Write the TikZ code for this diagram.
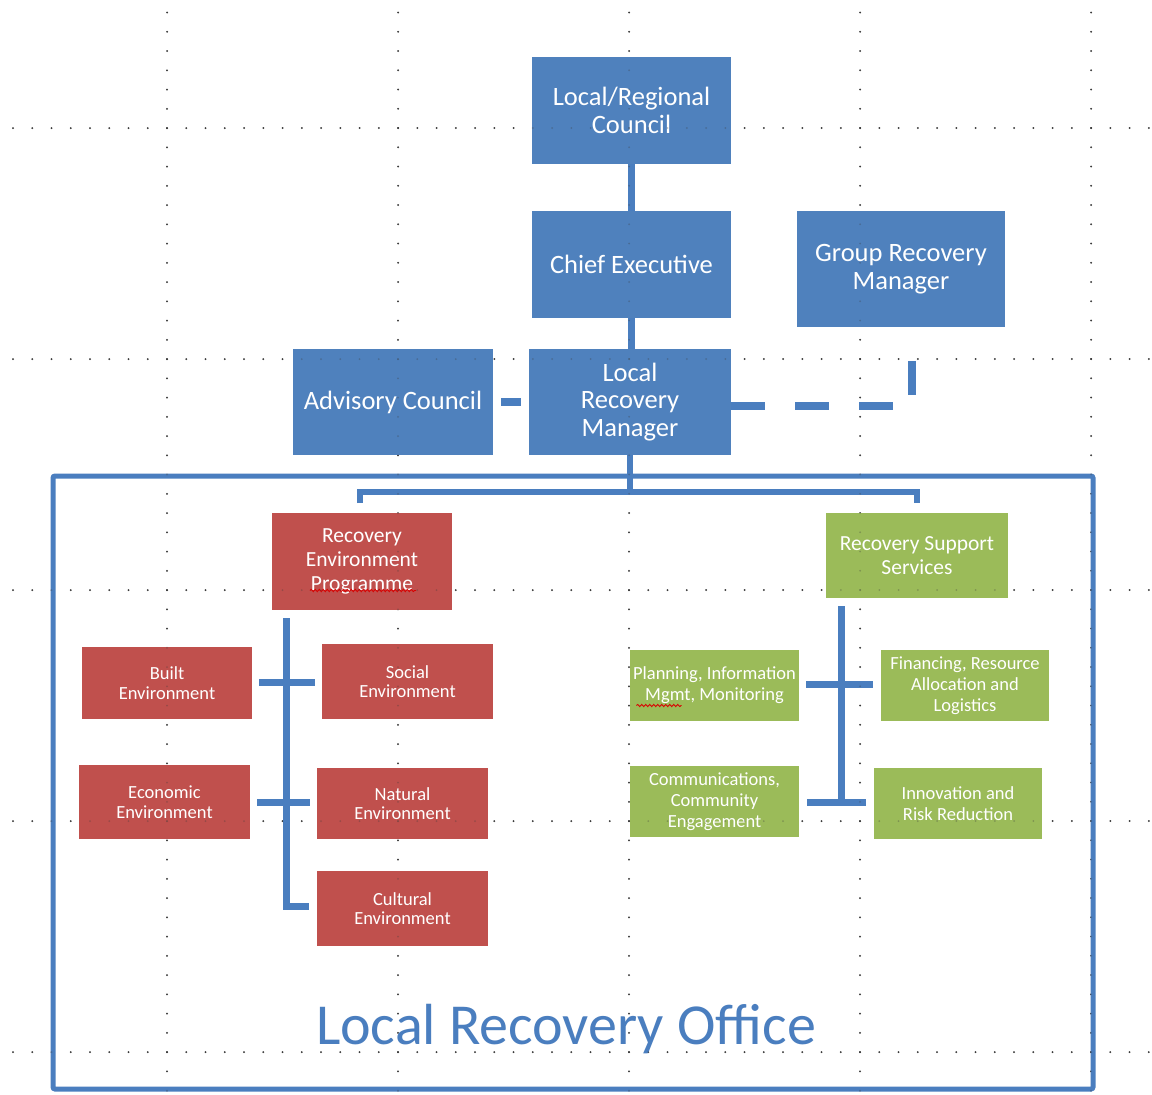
\documentclass[tikz,border=0pt]{standalone}
\usepackage{fontspec}
\setmainfont{Carlito}
\usetikzlibrary{calc,decorations.pathmorphing}
\definecolor{ofblue}{HTML}{4F81BD}
\definecolor{ofred}{HTML}{C0504D}
\definecolor{ofgreen}{HTML}{9BBB59}
\definecolor{linkblue}{HTML}{4A7EBF}
\definecolor{griddot}{HTML}{3A3A3A}
\tikzset{
  box/.style={inner sep=0pt, align=center, text=white},
  bluebox/.style={box, fill=ofblue, font=\fontsize{26.5}{27.5}\selectfont},
  redhead/.style={box, fill=ofred, font=\fontsize{21.5}{24}\selectfont},
  redbox/.style={box, fill=ofred, font=\fontsize{18.5}{19.5}\selectfont},
  greenhead/.style={box, fill=ofgreen, font=\fontsize{21.5}{23.5}\selectfont},
  greenbox/.style={box, fill=ofgreen, font=\fontsize{18.5}{21}\selectfont},
  link/.style={draw=linkblue, line width=7.5pt},
  bracketlink/.style={draw=linkblue, line width=6pt},
  sublink/.style={draw=linkblue, line width=7pt},
  dashlink/.style={draw=linkblue, line width=8pt, dash pattern=on 34pt off 30pt},
  officeframe/.style={draw=linkblue, line width=5pt, rounded corners=2pt, inner sep=0pt},
  officetext/.style={text=linkblue, font=\fontsize{58}{60}\selectfont, inner sep=0pt},
  gridline/.style={griddot, line width=2pt, line cap=round, dash pattern=on 0pt off 19.25pt},
  spell/.style={draw=red!85!black, line width=0.9pt, decorate, decoration={snake, amplitude=1.1pt, segment length=4pt}}
}
\begin{document}
\begin{tikzpicture}[x=1pt,y=-1pt]
\useasboundingbox (0,0) rectangle (1152,1095);
\fill[white] (0,0) rectangle (1152,1095);
% grid (behind)
\foreach \gx in {167,398,629,860,1091} {\draw[gridline] (\gx,12.5) -- (\gx,1095);}
\foreach \gy in {128,359,590,821,1052} {\draw[gridline] (13,\gy) -- (1152,\gy);}

% frame of the office
\node[officeframe, minimum width=1040pt, minimum height=613pt] (office) at (573,782.5) {};
\node[officetext, anchor=base] (officelabel) at (566,1044) {Local Recovery Office};

% top hierarchy
\node[bluebox, minimum width=199pt, minimum height=107pt] (lrc) at (631.5,110.5) {Local/Regional\\Council};
\node[bluebox, minimum width=199pt, minimum height=107pt] (ce) at (631.5,264.5) {Chief Executive};
\node[bluebox, minimum width=208pt, minimum height=116pt] (grm) at (901,269) {Group Recovery\\Manager};
\node[bluebox, minimum width=200pt, minimum height=106pt] (adv) at (393,402) {Advisory Council};
\node[bluebox, minimum width=202pt, minimum height=106pt] (lrm) at (630,402) {Local\\Recovery\\Manager};

% programme heads
\node[redhead, minimum width=180pt, minimum height=97pt] (rep) at (362,561.5) {Recovery\\Environment\\Programme};
\node[greenhead, minimum width=182pt, minimum height=85pt] (rss) at (917,555.5) {Recovery Support\\Services};

% red environments
\node[redbox, minimum width=170pt, minimum height=72pt] (built) at (167,683) {Built\\Environment};
\node[redbox, minimum width=171pt, minimum height=75pt] (social) at (407.5,681.5) {Social\\Environment};
\node[redbox, minimum width=171pt, minimum height=74pt] (econ) at (164.5,802) {Economic\\Environment};
\node[redbox, minimum width=171pt, minimum height=71pt] (natural) at (402.5,803.5) {Natural\\Environment};
\node[redbox, minimum width=171pt, minimum height=75pt] (cultural) at (402.5,908.5) {Cultural\\Environment};

% green services
\node[greenbox, minimum width=169pt, minimum height=71pt] (plan) at (714.5,685.5) {Planning, Information\\Mgmt, Monitoring};
\node[greenbox, minimum width=168pt, minimum height=71pt] (fin) at (965,685.5) {Financing, Resource\\Allocation and\\Logistics};
\node[greenbox, minimum width=169pt, minimum height=71pt] (comm) at (714.5,801.5) {Communications,\\Community\\Engagement};
\node[greenbox, minimum width=168pt, minimum height=71pt] (innov) at (958,803.5) {Innovation and\\Risk Reduction};

% spell-check underlines
\draw[spell] ($(rep.center)+(-52,29)$) -- ($(rep.center)+(54,29)$);
\draw[spell] ($(plan.center)+(-78,20)$) -- ($(plan.center)+(-33,20)$);

% connectors top
\draw[link] (lrc.south) -- (ce.north);
\draw[link] (ce.south) -- (ce.south |- lrm.north);
\draw[link] ($(adv.east)+(8,0)$) -- ($(lrm.west)+(-8,0)$);
\coordinate (dashcorner) at (912,406);
\coordinate (grmend) at (912,350);
\draw[dashlink] ($(lrm.east)+(0,4)$) -- (dashcorner) -- (grmend);

% main bracket
\coordinate (brmid) at (630,492);
\coordinate (brleft) at (360,492);
\coordinate (brright) at (917,492);
\coordinate (brleftend) at (360,503);
\coordinate (brrightend) at (917,503);
\draw[bracketlink] (lrm.south) -- (brmid);
\draw[bracketlink] (brleftend) -- (brleft) -- (brright) -- (brrightend);

% red tree
\coordinate (redtop) at (286.5,618);
\coordinate (redbot) at (286.5,906);
\draw[sublink] (redtop) -- (redbot) -- ($(cultural.west |- redbot)+(-8,0)$);
\draw[sublink] ($(built.east)+(7,-1)$) -- ($(social.west |- built.east)+(-7,-1)$);
\draw[sublink] ($(econ.east)+(7,0)$) -- ($(natural.west |- econ.east)+(-7,0)$);

% green tree
\coordinate (greentop) at (841.5,606);
\coordinate (greenbot) at (841.5,802);
\draw[sublink] (greentop) -- (greenbot);
\draw[sublink] ($(plan.east)+(7,-1.5)$) -- ($(fin.west |- plan.east)+(-8,-1.5)$);
\draw[sublink] ($(comm.east)+(8,0.5)$) -- ($(innov.west |- comm.east)+(-8,0.5)$);

% grid (faint overlay on top)
\foreach \gx in {167,398,629,860,1091} {\draw[gridline, opacity=0.3] (\gx,12.5) -- (\gx,1095);}
\foreach \gy in {128,359,590,821,1052} {\draw[gridline, opacity=0.3] (13,\gy) -- (1152,\gy);}
\end{tikzpicture}
\end{document}
